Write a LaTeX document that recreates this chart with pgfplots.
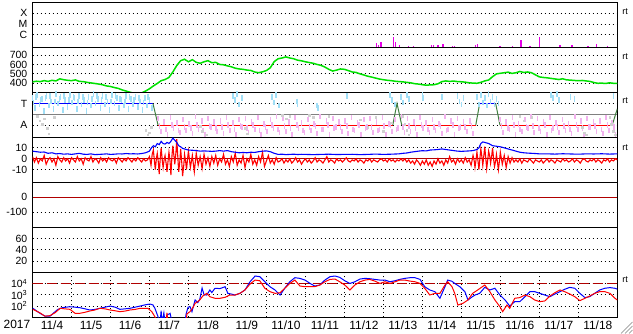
\documentclass[border=0pt]{standalone}
\usepackage{pgfplots}
\pgfplotsset{compat=1.18}
\usepackage{fontspec}
\setmainfont{Liberation Sans}
\definecolor{swgreen}{RGB}{0,225,0}
\definecolor{flare}{RGB}{230,0,230}
\definecolor{ltblue}{RGB}{160,222,246}
\definecolor{ltpink}{RGB}{242,178,238}
\definecolor{ltgray}{RGB}{208,208,208}
\definecolor{dkred}{RGB}{176,0,0}
\definecolor{dkgreen}{RGB}{64,128,64}
\definecolor{midgray}{RGB}{128,128,128}
\definecolor{pblue}{RGB}{0,0,255}
\definecolor{pred}{RGB}{255,0,0}
\pgfplotsset{
  panel/.style={
    scale only axis, width=584.8bp, height=45bp, anchor=south west,
    xmin=0, xmax=15, xtick=\empty, minor xtick={1,2,...,14},
    xminorgrids, ymajorgrids,
    major grid style={black, line width=0.9bp, dash pattern=on 1bp off 3bp},
    minor grid style={black, line width=0.9bp, dash pattern=on 1bp off 3bp},
    major tick length=0pt, minor tick length=0pt,
    axis line style={black, line width=1.2bp},
    tick label style={font=\fontsize{10.5}{12}\selectfont},
    yticklabel style={anchor=east, inner sep=0pt, xshift=-5bp},
    /pgf/number format/assume math mode=true,
    /pgf/number format/1000 sep={},
  },
  speck/.style={only marks, mark=|, mark size=2.8bp, mark options={line width=1.6bp}}
}
\begin{document}
\begin{tikzpicture}[x=1bp,y=1bp]
% Panel 1: X-ray flares
\begin{axis}[panel, at={(32.5bp,286.7bp)}, ymin=0, ymax=45, ytick={12.6,23.3,34}, yticklabels={C,M,X}]
\addplot[flare, ycomb, line width=1.3bp] coordinates {
(8.82,4.3)(8.88,2)(8.94,5)(9.26,10)(9.31,5)(9.42,2)(9.65,1)(9.78,1.2)(10.24,2)(10.29,2)(10.40,2)(10.53,3)(10.78,1.5)(10.83,1.5)(11.37,2.5)(11.41,3)(11.99,1)(12.32,1)(12.53,7)(12.76,1)(13.00,10)(13.53,2)(13.84,2)(14.25,1.5)(14.46,3.3)(14.74,1)};
\end{axis}
% Panel 2: solar wind speed
\begin{axis}[panel, at={(32.5bp,241.7bp)}, ymin=304.6, ymax=781.6, ytick={400,500,600,700}]
\addplot[swgreen, line width=1.5bp] coordinates {
(0.0,415)(0.1,422)(0.2,418)(0.3,428)(0.4,420)(0.5,432)(0.6,425)(0.7,447)(0.8,438)(0.9,432)
(1.0,428)(1.1,436)(1.2,420)(1.3,418)(1.4,410)(1.5,404)(1.6,398)(1.7,392)(1.8,384)(1.9,372)
(2.0,366)(2.1,355)(2.2,346)(2.3,330)(2.4,318)(2.5,305)(2.6,295)(2.7,285)(2.8,298)(2.9,318)
(3.0,342)(3.1,372)(3.2,398)(3.3,428)(3.4,440)(3.5,462)(3.6,520)(3.7,588)(3.8,640)(3.9,655)
(4.0,628)(4.1,650)(4.2,622)(4.3,612)(4.4,628)(4.5,640)(4.6,618)(4.7,622)(4.8,600)(4.9,596)
(5.0,585)(5.1,575)(5.2,560)(5.3,552)(5.4,548)(5.5,540)(5.6,536)(5.7,520)(5.8,512)(5.9,522)
(6.0,535)(6.1,565)(6.2,630)(6.3,660)(6.4,668)(6.5,680)(6.6,668)(6.7,660)(6.8,645)(6.9,638)
(7.0,628)(7.1,620)(7.2,612)(7.3,600)(7.4,590)(7.5,572)(7.6,548)(7.7,530)(7.8,540)(7.9,552)
(8.0,548)(8.1,535)(8.2,520)(8.3,515)(8.4,500)(8.5,488)(8.6,475)(8.7,466)(8.8,455)(8.9,445)
(9.0,438)(9.1,432)(9.2,428)(9.3,422)(9.4,418)(9.5,415)(9.6,410)(9.7,405)(9.8,396)(9.9,392)
(10.0,385)(10.1,380)(10.2,383)(10.3,385)(10.4,395)(10.5,418)(10.6,425)(10.7,420)(10.8,424)(10.9,418)
(11.0,416)(11.1,412)(11.2,405)(11.3,402)(11.4,400)(11.5,410)(11.6,425)(11.7,435)(11.8,470)(11.9,500)
(12.0,506)(12.1,512)(12.2,518)(12.3,505)(12.4,512)(12.5,525)(12.6,515)(12.7,520)(12.8,512)(12.9,490)
(13.0,468)(13.1,462)(13.2,458)(13.3,452)(13.4,446)(13.5,440)(13.6,448)(13.7,436)(13.8,434)(13.9,430)
(14.0,428)(14.1,430)(14.2,425)(14.3,420)(14.4,408)(14.5,400)(14.6,402)(14.7,398)(14.8,405)(14.9,400)(15.0,398)};
\end{axis}
% Panel 3: sector T/A
\begin{axis}[panel, at={(32.5bp,196.5bp)}, ymin=-2.16, ymax=2.02, ytick={-1,1}, yticklabels={A,T}]
\addplot[ltblue, speck] coordinates {
(0.00,1.5)(0.06,0.6)(0.12,1.8)(0.18,0.9)(0.24,1.4)(0.30,0.3)(0.36,1.7)(0.42,0.8)(0.48,1.2)(0.54,0.5)
(0.60,1.9)(0.66,1.0)(0.72,1.6)(0.78,0.4)(0.84,1.3)(0.90,0.7)(0.96,1.8)(1.02,1.1)(1.08,1.5)(1.14,0.5)
(1.20,1.7)(1.26,0.9)(1.32,1.3)(1.38,0.3)(1.44,1.6)(1.50,0.8)(1.56,1.9)(1.62,1.0)(1.68,1.4)(1.74,0.6)
(1.80,1.7)(1.86,0.9)(1.92,1.2)(1.98,0.4)(2.04,1.8)(2.10,1.0)(2.16,1.5)(2.22,0.6)(2.28,1.3)(2.34,0.8)
(2.40,1.7)(2.46,0.5)(2.52,1.4)(2.58,0.9)(2.64,1.6)(2.70,0.7)(2.76,1.2)(2.82,0.4)(2.88,1.5)(2.94,0.8)(3.00,1.3)(3.06,0.6)
(0.03,1.1)(0.09,1.6)(0.21,1.3)(0.33,1.5)(0.45,1.7)(0.57,1.2)(0.69,1.4)(0.81,1.7)(0.93,1.3)(1.05,1.6)
(1.17,1.2)(1.29,1.6)(1.41,1.1)(1.53,1.4)(1.65,1.7)(1.77,1.3)(1.89,1.6)(2.01,1.2)(2.13,1.7)(2.25,1.4)
(2.37,1.2)(2.49,1.6)(2.61,1.3)(2.73,1.5)(2.85,1.1)(2.97,1.6)};
\addplot[ltblue, speck] coordinates {
(11.40,1.6)(11.45,0.9)(11.50,1.8)(11.55,1.1)(11.60,1.5)(11.65,0.8)(11.70,1.9)(11.75,1.2)(11.80,1.6)(11.85,0.9)(11.90,1.4)(11.95,1.0)
(5.15,1.7)(5.2,1.3)(5.25,1.9)(5.3,0.9)(5.38,1.5)(6.15,1.6)(6.2,1.1)(6.25,1.8)(6.33,0.8)(6.78,1.2)(6.8,0.9)
(7.3,0.8)(7.32,0.6)(8.06,1.7)(9.17,1.8)(9.22,1.3)(9.3,0.9)(9.45,1.6)(9.5,1.1)(9.6,1.8)(9.65,1.4)(10.0,1.8)(10.02,1.5)
(10.5,1.6)(10.9,1.7)(10.95,1.2)(11.0,0.9)(11.05,1.5)(13.3,1.8)(13.35,1.5)(13.45,1.9)(13.5,1.3)(13.8,1.6)(13.9,1.4)(14.9,1.7)};
\addplot[ltpink, speck] coordinates {
(3.22,-0.4)(3.30,-1.6)(3.38,-0.7)(3.46,-1.9)(3.54,-0.3)(3.62,-1.3)(3.70,-0.8)(3.78,-1.7)(3.86,-0.5)(3.94,-1.5)
(4.02,-0.9)(4.10,-1.8)(4.18,-0.2)(4.26,-1.4)(4.34,-0.6)(4.42,-1.9)(4.50,-0.4)(4.58,-1.2)(4.66,-0.7)(4.74,-1.6)
(4.82,-0.6)(4.90,-1.8)(4.98,-0.3)(5.06,-1.5)(5.14,-0.8)(5.22,-1.9)(5.30,-0.5)(5.38,-1.2)(5.46,-0.4)(5.54,-1.7)
(5.62,-0.7)(5.70,-1.4)(5.78,-0.3)(5.86,-1.9)(5.94,-0.9)(6.02,-1.6)(6.10,-0.5)(6.18,-1.3)(6.26,-0.2)(6.34,-1.7)
(6.42,-0.4)(6.50,-1.6)(6.58,-0.7)(6.66,-1.9)(6.74,-0.3)(6.82,-1.3)(6.90,-0.8)(6.98,-1.7)(7.06,-0.5)(7.14,-1.5)
(7.22,-0.9)(7.30,-1.8)(7.38,-0.2)(7.46,-1.4)(7.54,-0.6)(7.62,-1.9)(7.70,-0.4)(7.78,-1.2)(7.86,-0.7)(7.94,-1.6)
(8.02,-0.6)(8.10,-1.8)(8.18,-0.3)(8.26,-1.5)(8.34,-0.8)(8.42,-1.9)(8.50,-0.5)(8.58,-1.2)(8.66,-0.4)(8.74,-1.7)
(8.82,-0.7)(8.90,-1.4)(8.98,-0.3)(9.06,-1.9)(9.14,-0.9)(9.22,-1.6)(9.30,-0.5)(9.38,-1.3)(9.46,-0.2)(9.54,-1.7)
(9.62,-0.4)(9.70,-1.6)(9.78,-0.7)(9.86,-1.9)(9.94,-0.3)(10.02,-1.3)(10.10,-0.8)(10.18,-1.7)(10.26,-0.5)(10.34,-1.5)
(10.42,-0.9)(10.50,-1.8)(10.58,-0.2)(10.66,-1.4)(10.74,-0.6)(10.82,-1.9)(10.90,-0.4)(10.98,-1.2)(11.06,-0.7)(11.14,-1.6)
(11.22,-0.6)(11.30,-1.8)
(3.26,-1.1)(3.42,-1.4)(3.58,-1.0)(3.74,-1.5)(3.90,-1.2)(4.06,-1.3)(4.22,-1.0)(4.38,-1.5)(4.54,-1.1)(4.70,-1.3)
(4.86,-1.2)(5.02,-1.0)(5.18,-1.4)(5.34,-1.1)(5.50,-1.3)(5.66,-1.0)(5.82,-1.5)(5.98,-1.2)(6.14,-1.0)(6.30,-1.4)
(6.46,-1.1)(6.62,-1.3)(6.78,-1.0)(6.94,-1.5)(7.10,-1.2)(7.26,-1.1)(7.42,-1.4)(7.58,-1.0)(7.74,-1.3)(7.90,-1.2)
(8.06,-1.1)(8.22,-1.4)(8.38,-1.0)(8.54,-1.3)(8.70,-1.2)(8.86,-1.5)(9.02,-1.1)(9.18,-1.0)(9.34,-1.4)(9.50,-1.2)
(9.66,-1.1)(9.82,-1.3)(9.98,-1.0)(10.14,-1.4)(10.30,-1.2)(10.46,-1.1)(10.62,-1.5)(10.78,-1.0)(10.94,-1.3)(11.10,-1.2)(11.26,-1.1)};
\addplot[ltpink, speck] coordinates {
(11.99,-0.5)(12.07,-1.7)(12.15,-0.7)(12.23,-1.4)(12.31,-0.3)(12.39,-1.9)(12.47,-0.9)(12.55,-1.6)(12.63,-0.5)(12.71,-1.3)
(12.79,-0.2)(12.87,-1.7)(12.95,-0.4)(13.03,-1.6)(13.11,-0.7)(13.19,-1.9)(13.27,-0.3)(13.35,-1.3)(13.43,-0.8)(13.51,-1.7)
(13.59,-0.5)(13.67,-1.5)(13.75,-0.9)(13.83,-1.8)(13.91,-0.2)(13.99,-1.4)(14.07,-0.6)(14.15,-1.9)(14.23,-0.4)(14.31,-1.2)
(14.39,-0.7)(14.47,-1.6)(14.55,-0.6)(14.63,-1.8)(14.71,-0.3)(14.79,-1.5)(14.87,-0.8)(14.95,-1.9)
(12.03,-1.1)(12.19,-1.3)(12.35,-1.0)(12.51,-1.4)(12.67,-1.2)(12.83,-1.1)(12.99,-1.3)(13.15,-1.0)(13.31,-1.5)(13.47,-1.2)
(13.63,-1.1)(13.79,-1.4)(13.95,-1.0)(14.11,-1.3)(14.27,-1.2)(14.43,-1.1)(14.59,-1.4)(14.75,-1.0)(14.91,-1.2)};
\addplot[ltgray, only marks, mark=square*, mark size=0.8bp] coordinates {
(0.12,-0.2)(0.18,-0.6)(0.25,-0.9)(0.3,-0.4)(0.38,-1.3)(0.42,-1.8)(0.55,-0.3)(2.9,-1.5)(2.95,-1.9)(3.0,-1.7)(3.05,-1.2)
(4.3,-1.1)(4.35,-1.6)(4.45,-1.9)(5.45,-1.3)(5.5,-1.8)(6.4,-0.1)(6.5,-0.4)(6.6,-0.2)(7.1,-0.1)(7.2,-0.3)(7.6,-0.2)
(8.4,-0.5)(8.6,-1.2)(8.8,-0.3)(9.0,-1.6)(9.2,-0.8)(9.5,-0.2)(9.55,-0.9)(9.6,-1.5)(9.65,-1.9)(12.5,-0.2)(12.6,-0.6)(12.8,-0.3)
(14.1,-1.2)(14.15,-1.7)(14.2,-1.9)(14.8,-0.3)(14.85,-0.9)(14.9,-1.6)(14.95,-1.9)};
\addplot[midgray, line width=1bp] coordinates {(0,0) (15,0)};
\addplot[pblue, line width=1bp] coordinates {(0,1) (3.09,1)};
\addplot[dkgreen, line width=1bp] coordinates {(3.09,1) (3.22,-1)};
\addplot[pred, line width=1bp] coordinates {(3.22,-1) (9.24,-1)};
\addplot[dkgreen, line width=1bp] coordinates {(9.24,-1) (9.35,1) (9.47,-1)};
\addplot[pred, line width=1bp] coordinates {(9.47,-1) (11.37,-1)};
\addplot[dkgreen, line width=1bp] coordinates {(11.37,-1) (11.47,1)};
\addplot[pblue, line width=1bp] coordinates {(11.47,1) (11.88,1)};
\addplot[dkgreen, line width=1bp] coordinates {(11.88,1) (11.99,-1)};
\addplot[pred, line width=1bp] coordinates {(11.99,-1) (14.87,-1)};
\addplot[dkgreen, line width=1bp] coordinates {(14.87,-1) (15.0,0.5)};
\end{axis}
% Panel 4: IMF Bt / Bz
\begin{axis}[panel, at={(32.5bp,151.7bp)}, ymin=-21.6, ymax=19.7, ytick={-10,0,10}]
\addplot[dkred, line width=1bp] coordinates {(0,0) (15,0)};
\addplot[pred, line width=1.1bp] coordinates {
(0.00,2)(0.05,-3)(0.10,1)(0.15,-4)(0.20,0)(0.25,-2)(0.30,3)(0.35,-5)(0.40,-1)(0.45,1)(0.50,-3)(0.55,0)(0.60,-6)(0.65,2)(0.70,-1)(0.75,-3)(0.80,1)(0.85,-2)(0.90,0)(0.95,-4)
(1.00,1)(1.05,-1)(1.10,-3)(1.15,2)(1.20,-2)(1.25,0)(1.30,-5)(1.35,1)(1.40,-1)(1.45,-2)(1.50,2)(1.55,-3)(1.60,0)(1.65,-1)(1.70,-4)(1.75,1)(1.80,-2)(1.85,0)(1.90,-3)(1.95,1)
(2.00,-1)(2.05,-2)(2.10,0)(2.15,-4)(2.20,1)(2.25,-1)(2.30,-3)(2.35,0)(2.40,-2)(2.45,1)(2.50,-1)(2.55,-3)(2.60,0)(2.65,-2)(2.70,1)(2.75,-1)(2.80,-3)(2.85,0)(2.90,-2)(2.95,-1)
(3.00,2)(3.04,-6)(3.07,4)(3.10,8)(3.13,-3)(3.15,-10)(3.18,1)(3.20,5)(3.23,-4)(3.25,-14)(3.28,2)(3.30,10)(3.33,-2)(3.35,-8)(3.38,0)(3.40,3)(3.43,-5)(3.45,-12)(3.48,-1)(3.50,6)
(3.53,-3)(3.55,-15)(3.58,4)(3.60,12)(3.63,2)(3.65,-5)(3.68,6)(3.70,18)(3.73,0)(3.75,-12)(3.78,-2)(3.80,9)(3.83,-4)(3.85,-16)(3.88,-6)(3.90,4)(3.93,-3)(3.95,-10)(3.98,1)
(4.00,7)(4.05,-8)(4.10,3)(4.15,-12)(4.20,5)(4.25,-6)(4.30,2)(4.35,-9)(4.40,4)(4.45,-5)(4.50,1)(4.55,-7)(4.60,2)(4.65,-4)(4.70,3)(4.75,-6)(4.80,0)(4.85,-3)
(4.90,4)(4.95,-5)(5.00,-1)(5.05,-7)(5.10,2)(5.15,-3)(5.20,5)(5.25,-6)(5.30,-1)(5.35,-4)(5.40,3)(5.45,-8)(5.50,0)(5.55,-3)(5.60,4)(5.65,-5)(5.70,-1)(5.75,-6)(5.80,2)(5.85,-3)
(5.90,6)(5.95,-7)(6.00,-2)(6.05,3)(6.10,-4)(6.15,-1)(6.20,-5)(6.25,1)(6.30,-3)(6.35,-2)(6.40,0)(6.45,-4)
(6.50,-1)(6.55,-3)(6.60,0)(6.65,-4)(6.70,-2)(6.75,1)(6.80,-3)(6.85,-1)(6.90,-5)(6.95,-2)(7.00,0)(7.05,-3)(7.10,-1)(7.15,-4)(7.20,-2)(7.25,1)(7.30,-3)(7.35,-1)(7.40,-2)(7.45,-4)
(7.50,-1)(7.55,2)(7.60,-3)(7.65,-1)(7.70,-2)(7.75,-4)(7.80,0)(7.85,-2)(7.90,-1)(7.95,-3)(8.00,-1)(8.05,1)(8.10,-2)(8.15,-3)(8.20,-1)(8.25,-2)(8.30,0)(8.35,-3)(8.40,-1)(8.45,-2)
(8.50,-4)(8.55,-1)(8.60,-2)(8.65,0)(8.70,-3)(8.75,-1)(8.80,-2)(8.85,-3)(8.90,-1)(8.95,0)(9.00,-2)(9.05,-1)(9.10,-3)(9.15,0)(9.20,-2)(9.25,-1)(9.30,-3)(9.35,-1)(9.40,-2)(9.45,0)
(9.50,-2)(9.55,0)(9.60,-3)(9.65,-1)(9.70,-4)(9.75,-2)(9.80,-5)(9.85,-1)(9.90,-3)(9.95,-6)(10.00,-2)(10.05,-5)(10.10,-1)(10.15,-6)(10.20,-3)(10.25,-7)(10.30,-2)(10.35,-5)(10.40,0)(10.45,-4)
(10.50,-2)(10.55,-6)(10.60,-1)(10.65,-4)(10.70,2)(10.75,-3)(10.80,-1)(10.85,-5)(10.90,0)(10.95,-3)(11.00,-1)(11.05,-4)(11.10,1)(11.15,-3)(11.20,-1)(11.25,-6)
(11.30,3)(11.33,-2)(11.35,-8)(11.38,0)(11.40,6)(11.43,-3)(11.45,-10)(11.48,2)(11.50,9)(11.53,1)(11.55,-6)(11.58,4)(11.60,11)(11.63,-1)(11.65,-9)(11.68,0)(11.70,7)(11.73,2)(11.75,-4)(11.78,3)
(11.80,10)(11.83,-1)(11.85,-7)(11.88,-2)(11.90,4)(11.93,-4)(11.95,-10)(11.98,-1)(12.00,6)(12.05,-5)(12.10,3)(12.15,-8)(12.20,2)(12.25,-4)(12.30,1)(12.35,-3)
(12.40,-1)(12.45,-3)(12.50,0)(12.55,-4)(12.60,-1)(12.65,-2)(12.70,-3)(12.75,0)(12.80,-2)(12.85,-4)(12.90,-1)(12.95,-2)(13.00,-3)(13.05,-1)(13.10,-4)(13.15,-2)(13.20,0)(13.25,-3)(13.30,-1)(13.35,-2)
(13.40,-4)(13.45,-1)(13.50,-2)(13.55,-3)(13.60,0)(13.65,-2)(13.70,-1)(13.75,-3)(13.80,-2)(13.85,0)(13.90,-3)(13.95,-1)(14.00,-2)(14.05,-4)(14.10,-1)(14.15,0)(14.20,-2)(14.25,-3)(14.30,-1)(14.35,-2)
(14.40,0)(14.45,-3)(14.50,-1)(14.55,-2)(14.60,-4)(14.65,-1)(14.70,-2)(14.75,0)(14.80,-3)(14.85,-1)(14.90,-2)(14.95,0)(15.00,-1)};
\addplot[pblue, line width=1.1bp] coordinates {
(0.0,7)(0.1,6.5)(0.2,6)(0.3,6.2)(0.4,5)(0.5,5.5)(0.6,4.5)(0.7,4.8)(0.8,4.2)(0.9,4.5)(1.0,4)(1.1,4.5)(1.2,5)(1.3,4.2)(1.4,4)(1.5,4.5)(1.6,3.8)(1.7,4)(1.8,4.2)(1.9,4.5)
(2.0,4)(2.1,4.2)(2.2,4.5)(2.3,4.4)(2.4,4.8)(2.5,4.5)(2.6,4.6)(2.7,4.4)(2.8,4.8)(2.9,5.5)(3.0,7)(3.05,10)(3.1,12)(3.15,11)(3.2,14)(3.25,13)(3.3,16)(3.35,14)(3.4,13.5)(3.45,15)
(3.5,14)(3.55,16)(3.6,19)(3.65,17)(3.7,15)(3.75,12)(3.8,11)(3.85,9.5)(3.9,9)(4.0,8)(4.1,7.8)(4.2,7.5)(4.3,7)(4.4,7.2)(4.5,7)(4.6,6.8)(4.7,7)(4.8,7.5)(4.9,7)(5.0,7.5)
(5.1,6.5)(5.2,6)(5.3,5.5)(5.4,5.8)(5.5,5.5)(5.6,6)(5.7,5.8)(5.8,6.5)(5.9,7)(6.0,7.2)(6.1,6.5)(6.2,5)(6.3,4)(6.4,4.2)(6.5,3.8)(6.6,4)(6.7,4.2)(6.8,3.9)(6.9,4.1)(7.0,4)
(7.2,3.8)(7.4,4)(7.6,4.2)(7.8,3.9)(8.0,4)(8.2,4.1)(8.4,3.8)(8.6,4)(8.8,4.3)(9.0,4)(9.2,4.2)(9.4,4.5)(9.5,5)(9.6,5.3)(9.7,6)(9.8,6.5)(9.9,7)(10.0,7.4)(10.1,7.2)(10.2,8)
(10.3,8.2)(10.4,8.5)(10.5,9)(10.6,8.5)(10.7,8)(10.8,7.5)(10.9,7)(11.0,6.8)(11.1,7)(11.2,7.2)(11.3,7.5)(11.4,8.5)(11.45,10)(11.5,14)(11.55,15.5)(11.6,15)(11.7,14)(11.8,12)(11.9,11.5)(12.0,11)
(12.1,10)(12.2,9)(12.3,8)(12.4,7)(12.5,6)(12.6,5.5)(12.7,5.2)(12.8,5)(12.9,4.8)(13.0,4.5)(13.2,4.5)(13.4,4.3)(13.6,4.6)(13.8,4.4)(14.0,4.2)(14.2,4.5)(14.4,4.4)(14.6,4.6)(14.8,4.3)(15.0,4.5)};
\end{axis}
% Panel 5: Dst
\begin{axis}[panel, at={(32.5bp,106.7bp)}, ymin=-200, ymax=100, ytick={-100,0}]
\addplot[dkred, line width=1bp] coordinates {(0,0) (15,0)};
\end{axis}
% Panel 6
\begin{axis}[panel, at={(32.5bp,61.7bp)}, ymin=0, ymax=80, ytick={20,40,60}]
\end{axis}
% Panel 7: electron flux (log10)
\begin{axis}[panel, at={(32.5bp,16.7bp)}, ymin=1, ymax=5, ytick={2,3,4},
  yticklabels={10\textsuperscript{2},10\textsuperscript{3},10\textsuperscript{4}},
  xtick={0.5,1.5,...,14.5},
  xticklabels={11/4,11/5,11/6,11/7,11/8,11/9,11/10,11/11,11/12,11/13,11/14,11/15,11/16,11/17,11/18},
  xticklabel style={font=\fontsize{12}{14}\selectfont, anchor=north, inner sep=0pt, yshift=-3bp}]
\addplot[dkred, line width=1bp, dash pattern=on 10bp off 4bp] coordinates {(0,4) (15,4)};
\addplot[pblue, line width=1bp] coordinates {
(0.01,1.8)(0.09,1.6)(0.19,1.36)(0.32,1.1)(0.45,1.1)(0.58,1.5)(0.65,1.7)(0.76,1.85)(0.86,1.9)(0.96,1.94)
(1.09,1.9)(1.22,1.85)(1.35,1.75)(1.47,1.65)(1.6,1.7)(1.73,1.8)(1.86,1.9)(1.99,2.0)(2.12,1.9)(2.24,1.71)
(2.37,1.75)(2.5,1.8)(2.63,1.9)(2.76,2.0)(2.88,2.1)(3.01,2.18)(3.09,2.1)(3.14,1.8)(3.22,1.05)(3.27,0.5)
(3.3,1.6)(3.32,0.5)(3.37,1.4)(3.4,0.5)(3.45,1.2)(3.53,1.35)(3.58,0.5)(3.91,0.5)(3.94,1.3)(3.99,1.9)
(4.04,1.94)(4.09,1.5)(4.17,2.54)(4.24,2.3)(4.29,2.6)(4.35,3.6)(4.4,3.0)(4.47,2.98)(4.55,3.43)(4.6,3.2)
(4.68,3.58)(4.81,3.55)(4.94,3.72)(5.01,3.13)(5.12,3.05)(5.19,2.98)(5.32,3.13)(5.45,3.43)(5.58,4.16)(5.71,4.67)
(5.83,4.61)(5.96,4.16)(6.09,3.72)(6.22,3.43)(6.35,2.98)(6.47,3.58)(6.6,4.16)(6.73,4.52)(6.86,4.46)(6.99,4.31)
(7.12,4.01)(7.24,3.78)(7.37,3.87)(7.5,4.31)(7.63,4.61)(7.76,4.67)(7.88,4.55)(8.01,4.25)(8.14,4.01)(8.27,4.16)
(8.4,4.40)(8.53,4.46)(8.65,4.43)(8.78,4.37)(8.91,4.31)(9.04,4.31)(9.17,4.16)(9.3,4.25)(9.42,4.37)(9.55,4.46)
(9.68,4.52)(9.81,4.52)(9.94,4.37)(10.06,3.72)(10.19,3.43)(10.32,3.28)(10.45,2.69)(10.58,3.72)(10.65,4.31)(10.76,4.2)
(10.83,4.01)(10.96,3.72)(11.09,3.28)(11.17,2.54)(11.27,2.8)(11.35,2.98)(11.47,3.13)(11.6,3.66)(11.73,3.43)(11.86,3.58)
(11.99,2.98)(12.12,2.54)(12.24,2.0)(12.37,2.39)(12.5,2.39)(12.63,2.83)(12.76,3.28)(12.88,3.28)(13.01,3.13)(13.14,2.98)
(13.27,2.83)(13.4,3.07)(13.53,3.28)(13.65,3.49)(13.78,3.66)(13.91,3.58)(14.04,3.13)(14.17,2.75)(14.29,2.83)(14.42,3.13)
(14.55,3.43)(14.68,3.58)(14.81,3.64)(14.94,3.58)(15.0,3.5)};
\addplot[pred, line width=1bp] coordinates {
(0.01,1.71)(0.19,1.4)(0.32,1.1)(0.45,1.15)(0.58,1.41)(0.71,1.8)(0.83,1.75)(0.96,1.71)(1.09,1.36)(1.22,1.36)
(1.35,1.45)(1.47,1.56)(1.6,1.65)(1.73,1.8)(1.86,1.75)(1.99,1.65)(2.12,1.58)(2.24,1.5)(2.37,1.55)(2.5,1.65)
(2.63,1.7)(2.76,1.8)(2.88,1.8)(2.96,1.8)(3.06,1.5)(3.14,1.05)(3.19,0.5)(3.42,0.5)(3.45,1.4)(3.47,0.5)
(3.94,0.5)(3.96,1.3)(4.04,1.5)(4.12,1.9)(4.17,2.24)(4.24,2.4)(4.29,2.54)(4.37,2.9)(4.47,3.13)(4.55,2.83)
(4.68,2.69)(4.81,2.69)(4.94,2.78)(5.06,2.98)(5.19,2.98)(5.32,3.13)(5.45,3.43)(5.58,3.96)(5.71,4.31)(5.83,4.25)
(5.96,3.58)(6.09,3.28)(6.22,3.13)(6.35,3.18)(6.47,3.58)(6.6,4.01)(6.73,4.31)(6.86,3.78)(6.99,3.72)(7.12,3.72)
(7.24,3.72)(7.37,3.87)(7.5,4.16)(7.63,4.37)(7.76,4.40)(7.88,4.16)(8.01,3.87)(8.14,3.43)(8.27,3.87)(8.4,4.16)
(8.53,4.31)(8.65,4.37)(8.78,4.22)(8.91,4.01)(9.04,4.16)(9.17,4.01)(9.3,4.16)(9.42,4.31)(9.55,4.31)(9.68,4.22)
(9.81,4.16)(9.94,4.01)(10.06,3.58)(10.19,2.98)(10.32,3.13)(10.45,3.13)(10.58,3.87)(10.65,4.16)(10.76,3.72)(10.83,3.13)
(10.91,2.09)(11.04,2.24)(11.17,2.54)(11.29,3.13)(11.42,3.43)(11.6,3.87)(11.73,3.28)(11.86,2.54)(11.99,1.94)(12.06,1.5)
(12.17,2.09)(12.24,1.8)(12.37,2.69)(12.5,2.75)(12.63,2.98)(12.76,2.83)(12.88,2.54)(13.01,2.39)(13.14,2.45)(13.27,2.89)
(13.4,3.19)(13.53,3.43)(13.65,3.28)(13.78,3.07)(13.91,2.83)(14.04,2.48)(14.17,2.69)(14.29,2.89)(14.42,3.13)(14.55,3.28)
(14.68,3.28)(14.81,3.13)(14.94,2.69)(15.0,2.54)};
\end{axis}
\node[font=\fontsize{12}{14}\selectfont, anchor=north, inner sep=0pt] at (17bp,13.7bp) {2017};
\foreach \yy in {322,277,233,186,54}{
  \node[font=\fontsize{9}{9}\selectfont, inner sep=0pt] at (625bp,\yy bp) {rt};
}
\draw[midgray, line width=0.6bp] (621bp,0.5bp) -- (632.5bp,12bp) (625bp,0.5bp) -- (632.5bp,8bp) (629bp,0.5bp) -- (632.5bp,4bp);
\pgfresetboundingbox
\path (0,0) rectangle (633bp,334bp);
\end{tikzpicture}
\end{document}
